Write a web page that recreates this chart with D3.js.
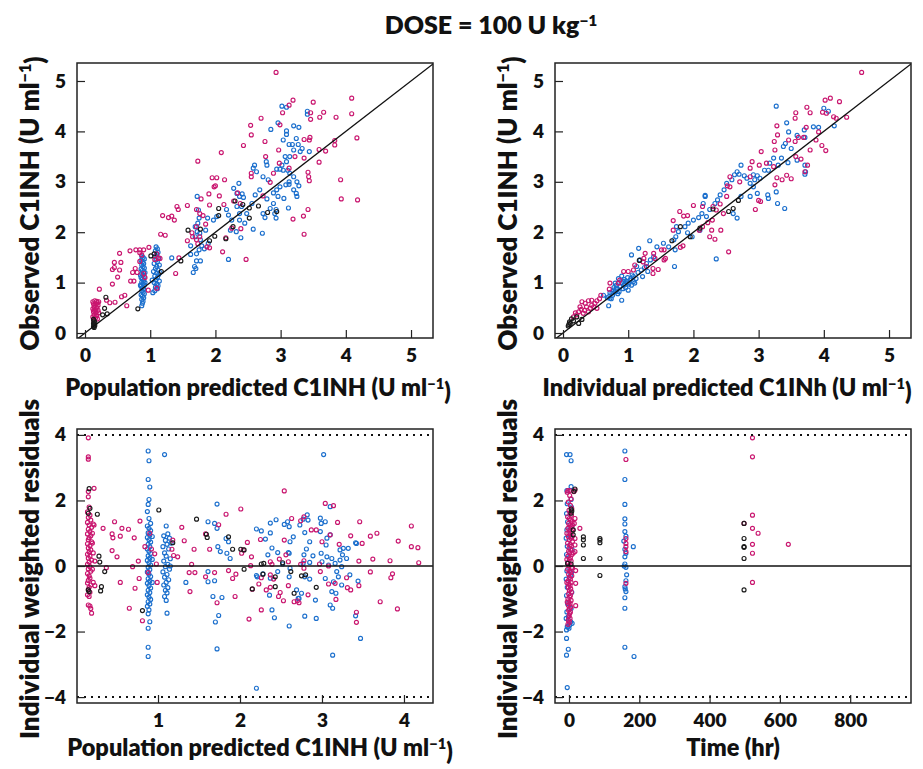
<!DOCTYPE html>
<html><head><meta charset="utf-8">
<script src="https://cdn.jsdelivr.net/npm/d3@7"></script>
<style>
body{margin:0;background:#fff}
text{font-family:Lato,"DejaVu Sans",sans-serif;font-weight:800;fill:#111}
</style>
</head><body>
<svg id="c" width="923" height="769"></svg>
<script>
// ---------------- DATA ----------------
const titleText = "DOSE = 100 U kg";
const xTicksPred = [0,1,2,3,4,5];
const yTicksObs = [0,1,2,3,4,5];
const xTicksResPred = [1,2,3,4];
const xTicksTime = [0,200,400,600,800];
const yTicksRes = [-4,-2,0,2,4];

// Panel 1: population predicted vs observed
const p1Blue = [
[0.87,1.53],[0.89,1.50],[0.91,1.47],[0.86,1.44],[0.88,1.41],[0.90,1.38],[0.87,1.35],[0.89,1.32],[0.91,1.29],[0.86,1.27],[0.88,1.24],[0.90,1.21],[0.87,1.18],[0.89,1.15],[0.91,1.12],[0.86,1.10],[0.88,1.07],[0.90,1.04],[0.87,1.01],[0.89,0.98],[0.91,0.95],[0.86,0.93],[0.88,0.90],[0.90,0.87],[0.87,0.84],[0.89,0.81],[0.91,0.78],[0.86,0.76],[0.88,0.73],[0.90,0.70],[0.87,0.67],[0.89,0.63],[0.88,0.59],[0.87,0.54],[0.92,1.20],[0.92,1.00],[0.85,1.15],[0.85,0.95],
[1.09,1.71],[1.11,1.67],[1.08,1.63],[1.12,1.60],[1.10,1.56],[1.07,1.52],[1.13,1.49],[1.09,1.45],[1.11,1.41],[1.06,1.38],[1.14,1.35],[1.10,1.32],[1.08,1.28],[1.12,1.25],[1.05,1.22],[1.10,1.19],[1.13,1.16],[1.07,1.13],[1.11,1.10],[1.09,1.06],[1.14,1.03],[1.06,1.00],[1.10,0.97],[1.12,0.94],[1.08,0.91],[1.11,0.88],[1.07,0.84],[1.04,0.80],[1.15,1.20],[1.03,1.05],
[3.02,4.50],[3.09,4.48],[2.96,4.17],[2.85,4.04],[3.41,4.40],[3.41,4.34],[3.20,4.11],[3.28,4.08],[3.09,4.01],[3.09,3.94],[3.13,3.74],[3.18,3.74],[3.04,3.83],[3.27,3.74],[3.24,3.86],[3.33,3.66],[3.30,3.60],[3.44,3.60],[3.20,3.63],[3.07,3.50],[3.14,3.50],[3.09,3.40],[3.02,3.33],[2.94,3.25],[2.99,3.25],[3.04,3.23],[3.11,3.23],[3.14,3.17],[3.20,3.10],[3.25,3.00],[3.28,2.92],[3.24,2.77],[3.25,2.71],[3.13,3.00],[3.13,2.95],[3.20,2.84],[3.08,2.94],[2.99,2.90],[2.94,2.84],[2.89,2.78],[2.96,2.71],[3.05,2.67],[3.12,2.48],[2.89,2.57],[2.93,2.45],[2.91,2.37],[2.93,2.28],[2.84,2.47],[2.79,2.66],[2.78,3.40],[2.79,3.33],[2.81,3.04],[2.73,3.10],[2.63,3.20],[2.60,3.33],[2.58,3.27],[2.68,2.84],[2.61,2.74],[2.56,2.57],[2.73,2.37],[2.76,2.29],[2.72,1.98],[2.58,2.06],[2.45,2.18],[2.48,2.37],[2.43,2.69],[2.41,2.76],[2.33,2.77],[2.28,2.87],[2.36,2.97],[2.37,2.71],[2.40,2.51],[2.33,2.51],[2.37,2.37],[2.37,2.24],[2.25,2.24],[2.23,2.04],[2.32,2.01],[2.39,1.89],[2.20,1.46],[2.17,2.45],[2.20,2.34],[2.02,2.31],[1.97,2.24],[1.88,2.28],[1.85,2.04],[1.72,2.71],[1.74,2.44],[1.75,2.28],[1.73,2.18],[1.69,2.11],[1.72,2.01],[1.76,1.98],[1.69,1.91],[1.77,1.85],[1.79,1.73],[1.75,1.65],[1.71,1.57],[1.62,1.73],[1.62,1.56],[1.71,1.43],[1.77,1.43],[1.68,1.32],[1.70,1.28],[1.66,1.20],[1.83,1.67],[1.89,1.78],[1.33,1.49]
];
const p1Magenta = [
[0.12,0.62],[0.15,0.64],[0.18,0.63],[0.21,0.62],[0.13,0.58],[0.17,0.57],[0.20,0.55],[0.14,0.52],[0.18,0.50],[0.12,0.48],[0.16,0.46],[0.20,0.45],[0.13,0.42],[0.17,0.40],[0.21,0.40],[0.14,0.36],[0.18,0.34],[0.12,0.32],[0.16,0.30],[0.19,0.28],[0.13,0.26],[0.15,0.55],[0.19,0.60],[0.14,0.45],[0.17,0.35],
[2.93,5.17],[4.09,4.66],[4.09,4.35],[4.17,3.87],[4.18,2.64],[3.93,2.66],[3.92,3.04],[3.85,4.28],[3.66,4.38],[3.60,4.28],[3.50,4.58],[3.46,4.37],[3.46,4.24],[3.19,4.62],[3.13,4.52],[3.03,4.37],[2.99,4.13],[2.70,4.26],[2.54,4.12],[2.55,3.93],[2.43,3.72],[2.76,3.80],[2.77,3.50],[2.97,3.63],[2.98,3.37],[3.13,3.27],[3.22,3.50],[3.36,3.47],[3.45,3.88],[3.44,3.83],[3.36,3.84],[3.59,3.64],[3.69,3.61],[3.83,3.82],[3.83,3.73],[3.59,3.39],[3.42,3.19],[3.43,3.10],[3.44,3.02],[3.42,2.45],[3.35,2.32],[3.36,1.96],[3.19,2.26],[2.89,3.17],[2.84,2.99],[2.73,2.72],[2.55,3.17],[2.55,3.10],[2.38,2.57],[2.34,2.78],[2.28,2.62],[2.13,2.55],[2.25,2.08],[2.16,1.89],[2.39,2.07],[2.47,1.46],[2.11,1.61],[2.09,3.58],[2.14,3.04],[2.02,3.08],[2.00,2.92],[1.98,2.90],[1.95,3.08],[2.06,2.72],[1.90,2.76],[1.73,3.41],[1.91,2.54],[1.78,2.66],[1.71,2.45],[1.81,2.33],[1.85,2.16],[1.71,2.11],[1.76,2.37],[1.57,2.53],[1.41,2.51],[1.43,2.45],[1.19,2.33],[1.28,2.29],[1.33,2.32],[1.37,2.24],[1.16,1.96],[1.23,1.94],[1.64,1.99],[1.65,1.91],[1.57,1.83],[1.71,1.85],[1.76,1.91],[1.87,1.71],[1.91,1.69],[1.73,1.77],[1.44,1.49],[1.39,1.18],[0.98,1.70],[0.90,1.65],[0.84,1.65],[0.78,1.65],[0.69,1.63],[0.87,1.55],[0.84,1.42],[0.84,1.59],[0.77,1.28],[0.80,1.20],[0.73,1.20],[0.70,1.03],[0.75,1.03],[0.64,0.54],[0.56,0.72],[0.61,0.75],[0.55,1.40],[0.53,1.58],[0.45,1.40],[0.45,1.30],[0.53,1.25],[0.42,1.26],[0.50,1.11],[0.42,0.97],[0.46,0.61],[0.38,0.60],[0.33,0.65],[0.22,0.87],[0.97,0.85],[1.10,0.89],[1.10,1.57],[1.12,1.48],[1.15,1.48],[1.07,1.46],[0.90,1.18],[0.92,1.10]
];
const p1Black = [
[0.13,0.13],[0.14,0.16],[0.13,0.19],[0.15,0.21],[0.14,0.24],[0.13,0.27],[0.15,0.15],[0.14,0.11],
[2.30,2.62],[2.42,2.55],[2.52,2.48],[2.66,2.52],[2.80,2.39],[2.94,2.41],[2.52,2.28],[2.27,2.11],[2.16,1.87],[2.05,2.47],[2.05,2.33],[1.99,1.92],[1.91,1.83],[1.77,2.06],[1.58,2.04],[1.47,1.43],[1.17,1.22],[1.01,1.53],[1.06,1.57],[0.81,0.48],[0.32,0.71],[0.30,0.49],[0.27,0.36],[0.34,0.38]
];

// Panel 2: individual predicted vs observed
const p2Blue = [
[3.27,4.50],[3.43,4.17],[3.46,3.99],[3.59,3.92],[3.70,4.03],[3.71,3.88],[3.84,4.09],[3.92,4.08],[4.00,4.46],[4.07,4.40],[4.16,4.11],[3.71,3.15],[3.72,3.20],[3.71,3.33],[3.59,3.43],[3.45,3.38],[3.41,3.76],[3.38,3.70],[3.50,3.66],[3.35,3.47],[3.30,3.33],[3.23,3.47],[3.17,3.37],[3.15,3.23],[3.09,3.23],[3.02,3.07],[2.98,3.12],[2.94,3.04],[2.92,3.14],[2.87,2.97],[2.82,3.07],[2.78,3.12],[2.73,3.33],[2.70,3.15],[2.67,3.20],[2.63,3.14],[2.59,3.04],[2.51,2.97],[2.47,2.84],[2.41,2.74],[2.37,2.64],[2.33,2.57],[2.25,2.45],[2.18,2.71],[2.15,2.57],[2.13,2.37],[2.08,2.29],[2.00,2.24],[1.92,2.18],[1.87,2.11],[1.77,2.01],[1.73,1.91],[1.70,1.85],[1.62,1.71],[1.54,1.78],[1.44,1.71],[1.39,1.51],[1.34,1.45],[1.28,1.38],[1.18,1.45],[1.16,1.68],[1.05,1.55],[1.13,1.32],[1.08,1.12],[1.03,1.05],[0.98,0.99],[0.93,1.02],[0.87,0.92],[0.82,0.89],[0.77,0.85],[0.75,0.79],[0.70,0.72],[0.80,0.99],[0.90,1.13],[0.85,1.08],[0.72,0.69],[0.90,0.65],[0.70,0.54],[0.62,0.75],[1.05,0.95],[1.10,0.99],[1.00,0.85],[2.35,1.47],[3.40,2.47],[3.29,2.57],[3.15,2.67],[3.14,2.74],[3.27,2.80],[2.98,2.77],[2.87,2.71],[2.73,2.71],[2.67,2.28],[2.61,2.37],[2.92,2.90],[2.18,2.73],[1.72,1.65],[1.71,1.32],[1.33,1.83],[1.74,2.11],[2.20,2.31],[2.10,2.04],[1.98,1.91],[1.91,1.99],
[0.72,0.80],[0.76,0.75],[0.80,0.82],[0.83,0.86],[0.86,0.82],[0.88,0.93],[0.92,0.88],[0.95,0.96],[0.97,1.03],[1.01,0.97],[1.04,1.08],[0.78,0.90],[0.82,0.95],[0.90,1.00],[0.94,1.06],[0.99,1.10],[1.06,1.15],[1.12,1.08],[0.68,0.70],[0.74,0.68],[0.84,0.78],[0.96,0.90],[1.08,1.02],[1.15,1.20],[1.20,1.25],[1.25,1.30],[1.30,1.22],[1.22,1.12]
];
const p2Magenta = [
[4.58,5.17],[4.24,4.59],[4.10,4.66],[4.02,4.62],[4.04,4.36],[4.15,4.29],[4.19,4.26],[4.35,4.28],[3.98,4.38],[3.97,3.72],[4.03,3.62],[3.88,3.83],[3.92,3.99],[3.79,4.37],[3.74,4.48],[3.73,4.08],[3.57,4.37],[3.56,4.26],[3.69,3.88],[3.61,3.88],[3.56,3.80],[3.46,3.83],[3.75,3.33],[3.71,3.20],[3.79,3.63],[3.57,3.50],[3.65,3.45],[3.50,3.06],[3.43,3.13],[3.36,3.04],[3.28,4.11],[3.29,3.93],[3.24,3.80],[3.25,3.63],[3.28,3.08],[3.25,2.94],[3.23,3.30],[3.12,3.37],[3.04,3.60],[3.01,3.33],[3.03,2.61],[3.00,2.63],[2.95,2.45],[2.90,3.40],[2.87,3.27],[2.87,3.10],[2.71,3.00],[2.56,3.10],[2.56,2.90],[2.52,2.92],[2.51,2.71],[2.46,2.37],[2.41,2.56],[2.30,2.51],[2.35,2.44],[2.29,2.24],[2.22,2.19],[2.14,2.51],[2.00,2.53],[1.91,2.33],[1.85,2.32],[1.79,2.41],[1.69,2.23],[1.69,2.04],[2.14,2.11],[2.09,2.04],[2.28,2.04],[2.33,1.86],[2.42,2.04],[2.25,1.91],[2.54,1.61],[1.84,1.73],[1.80,1.70],[1.55,1.65],[1.51,1.65],[1.57,1.48],[1.55,1.45],[1.39,1.58],[1.41,1.48],[1.38,1.28],[1.26,1.58],[1.24,1.48],[1.28,1.32],[1.23,1.41],[1.46,1.26],[1.38,1.18],[1.08,1.25],[1.10,1.35],[1.00,1.22],[0.93,1.22],[0.87,1.05],[0.85,0.99],[0.72,0.99],[0.71,0.87],[0.58,0.75],[0.56,0.68],[0.52,0.64],[0.49,0.59],[0.44,0.65],[0.39,0.64],[0.34,0.59],[0.29,0.62],[0.36,0.52],[0.42,0.49],[0.47,0.52],[0.26,0.52],[0.24,0.42],[0.21,0.36],[0.31,0.39],[0.39,0.42],[0.52,0.49],[0.16,0.32],[0.19,0.40],[0.28,0.47],[0.33,0.45],[0.44,0.55]
];
const p2Black = [
[2.30,2.46],[2.54,2.41],[2.61,2.47],[2.69,2.63],[2.10,2.08],[1.95,1.91],[1.80,2.11],[1.67,1.83],[1.17,1.44],[0.16,0.24],[0.11,0.19],[0.08,0.14],[0.21,0.32],[0.29,0.27],[0.24,0.19],[0.10,0.22],[0.09,0.17],[0.13,0.28]
];

// Panel 3: population predicted vs IWRES
const p3Blue = [
[0.88,3.51],[0.89,3.21],[0.88,2.64],[0.90,2.41],[0.89,2.03],[0.88,1.88],[0.87,1.66],[0.89,1.45],[0.91,1.30],[0.87,1.22],[0.89,1.15],[0.91,1.08],[0.88,1.01],[0.90,0.94],[0.87,0.87],[0.89,0.80],[0.91,0.73],[0.88,0.66],[0.90,0.59],[0.87,0.52],[0.89,0.45],[0.91,0.38],[0.88,0.31],[0.90,0.24],[0.87,0.17],[0.89,0.10],[0.91,0.03],[0.88,-0.04],[0.90,-0.11],[0.87,-0.18],[0.89,-0.25],[0.91,-0.32],[0.88,-0.39],[0.90,-0.46],[0.87,-0.53],[0.89,-0.60],[0.91,-0.67],[0.88,-0.74],[0.90,-0.81],[0.87,-0.88],[0.89,-0.95],[0.91,-1.02],[0.88,-1.09],[0.90,-1.16],[0.87,-1.23],[0.89,-1.34],[0.88,-1.46],[0.90,-1.70],[0.88,-1.90],[0.88,-2.48],[0.88,-2.76],[0.93,0.90],[0.93,0.20],[0.93,-0.50],
[1.08,3.40],[1.10,1.22],[1.12,0.98],[1.07,0.92],[1.14,0.85],[1.09,0.78],[1.11,0.66],[1.06,0.59],[1.13,0.52],[1.08,0.40],[1.10,0.30],[1.15,0.22],[1.07,0.15],[1.12,0.05],[1.09,-0.02],[1.14,-0.10],[1.06,-0.18],[1.11,-0.26],[1.08,-0.34],[1.13,-0.42],[1.10,-0.50],[1.07,-0.58],[1.12,-0.66],[1.09,-0.74],[1.11,-0.82],[1.08,-0.93],[1.10,-1.05],[1.11,-1.44],[1.16,0.70],[1.15,0.00],
[1.72,1.89],[1.61,1.35],[1.69,1.30],[1.72,1.15],[1.73,0.59],[1.76,0.44],[1.61,-0.17],[1.61,-0.48],[1.69,-0.45],[1.67,-0.93],[1.78,-0.96],[1.74,-1.51],[1.70,-1.71],[1.72,-2.53],[1.34,-0.50],[1.83,0.84],[1.86,0.74],[1.84,0.39],[1.88,0.23],
[2.20,-3.73],[2.20,-0.29],[2.20,1.13],[2.26,1.07],[2.37,1.31],[2.44,1.41],[2.31,0.82],[2.37,1.01],[2.39,0.55],[2.34,0.34],[2.46,0.41],[2.52,0.06],[2.21,-0.33],[2.28,-0.24],[2.37,-0.37],[2.46,-0.17],[2.60,-0.33],[2.36,-0.89],[2.39,-1.34],[2.42,-1.58],[2.60,-1.83],[2.60,1.20],[2.58,1.35],[2.54,1.27],[2.61,0.74],[2.59,0.41],[2.73,1.25],[2.77,1.43],[2.82,1.56],[2.83,1.40],[2.79,1.02],[2.85,0.74],[2.81,0.52],[2.78,0.34],[2.89,0.31],[2.85,0.11],[2.77,0.08],[2.79,-0.33],[2.85,-0.40],[2.75,-0.83],[2.71,-0.99],[2.79,-1.53],[2.93,-1.60],[2.92,-1.04],[2.98,1.46],[2.99,1.30],[3.04,1.35],[3.02,3.40],[3.10,1.81],[2.98,1.05],[3.06,0.85],[3.10,0.95],[3.05,0.64],[2.99,0.39],[3.06,0.28],[3.12,0.23],[3.00,0.13],[3.08,0.03],[3.16,0.08],[3.22,0.18],[3.18,-0.17],[3.24,-0.02],[3.30,0.23],[3.32,0.54],[3.25,0.34],[3.04,-0.38],[3.14,-0.48],[3.12,-0.78],[3.17,-0.83],[3.10,-1.19],[3.13,-1.29],[3.13,-2.72],[3.42,0.69],[3.44,-0.46],[3.41,-1.52],[3.47,-2.21],[3.24,-0.58],[3.34,-0.27],[3.20,-0.33],[3.22,0.49],[3.26,0.54],[3.41,0.71],[2.65,0.89],[2.69,-0.73],[2.72,-0.99],[2.61,-0.07],[2.60,0.39]
];
const p3Magenta = [
[0.15,3.91],[0.15,3.33],[0.15,3.26],[0.22,2.37],[0.15,2.27],[0.15,2.11],[0.16,1.80],[0.14,1.65],[0.17,1.55],[0.15,1.48],[0.18,1.40],[0.14,1.33],[0.16,1.25],[0.19,1.18],[0.15,1.12],[0.17,1.05],[0.14,0.98],[0.18,0.92],[0.16,0.86],[0.15,0.80],[0.19,0.74],[0.14,0.68],[0.17,0.62],[0.15,0.55],[0.18,0.49],[0.16,0.43],[0.14,0.36],[0.17,0.30],[0.15,0.24],[0.19,0.18],[0.16,0.12],[0.14,0.05],[0.17,-0.02],[0.15,-0.09],[0.18,-0.16],[0.14,-0.23],[0.16,-0.30],[0.17,-0.37],[0.15,-0.44],[0.14,-0.52],[0.18,-0.58],[0.16,-0.65],[0.15,-0.72],[0.17,-0.80],[0.14,-0.88],[0.16,-0.93],[0.15,-1.19],[0.17,-1.22],[0.18,-1.30],[0.19,-1.44],[0.20,1.00],[0.20,0.70],[0.21,0.40],[0.20,-0.10],[0.21,-0.50],[0.22,1.25],[0.23,0.15],[0.23,-0.60],
[0.21,1.28],[0.33,1.15],[0.47,1.35],[0.56,1.15],[0.64,1.12],[0.44,0.98],[0.45,0.86],[0.54,0.91],[0.44,0.47],[0.50,0.28],[0.37,-0.05],[0.54,-0.50],[0.65,-1.29],[0.71,0.86],[0.78,1.37],[0.81,-1.67],[0.72,-0.68],[0.69,-0.02],[0.76,0.15],[0.77,-0.38],[0.84,0.59],[0.96,0.37],[0.99,-0.50],[0.98,0.06],[0.90,1.00],[0.92,0.52],[0.88,-0.20],[1.17,0.51],[1.18,0.79],[1.19,0.32],[1.24,0.28],[1.29,1.18],[1.32,0.77],[1.38,-0.20],[1.41,0.05],[1.39,-0.78],[1.44,0.51],[1.45,-0.20],[1.58,-0.33],[1.58,0.98],[1.63,0.51],[1.74,1.26],[1.72,-1.12],[1.69,-0.20],[1.83,1.58],[1.86,-0.14],[1.91,-0.38],[1.94,-0.93],[1.95,-0.25],[2.01,1.74],[2.02,0.39],[2.04,0.49],[2.09,0.72],[2.11,-1.62],[2.13,0.01],[2.14,0.28],[2.15,-0.71],[2.23,-0.55],[2.26,-1.34],[2.25,0.81],[2.26,-0.36],[2.32,-0.73],[2.37,-0.65],[2.37,-0.27],[2.39,0.05],[2.37,0.13],[2.41,-0.40],[2.47,-0.93],[2.48,0.21],[2.49,-0.81],[2.54,2.29],[2.54,0.79],[2.53,-1.06],[2.56,0.34],[2.59,0.13],[2.59,-0.60],[2.63,1.45],[2.66,-1.09],[2.70,-1.06],[2.72,-1.12],[2.74,0.05],[2.74,1.38],[2.78,1.50],[2.78,0.16],[2.78,-0.07],[2.83,-0.88],[2.87,1.10],[2.93,1.10],[2.97,0.06],[2.98,-0.17],[3.00,0.74],[3.04,1.91],[3.08,0.00],[3.08,-0.55],[3.10,0.95],[3.14,1.84],[3.16,-0.53],[3.17,-1.02],[3.19,1.33],[3.21,0.66],[3.30,-0.36],[3.31,-0.66],[3.35,-0.73],[3.35,0.92],[3.42,-1.41],[3.42,-1.72],[3.46,1.35],[3.45,0.15],[3.45,-0.60],[3.49,0.69],[3.59,0.91],[3.59,-0.18],[3.62,0.21],[3.67,1.00],[3.71,-1.09],[3.83,0.16],[3.84,-0.36],[3.86,-0.24],[3.92,-1.31],[3.93,0.76],[4.09,1.22],[4.09,0.59],[4.17,0.56],[4.18,0.10]
];
const p3Black = [
[0.16,2.36],[0.17,1.76],[0.15,1.61],[0.26,1.58],[0.28,0.30],[0.29,0.12],[0.35,-0.17],[0.31,-0.63],[0.30,-0.76],[0.15,-0.73],[0.16,-0.78],[0.81,-1.36],[1.01,1.71],[1.18,0.71],[1.47,1.43],[1.59,0.97],[1.60,0.87],[1.86,0.89],[1.91,0.51],[2.01,0.51],[2.05,0.49],[2.05,-0.10],[2.15,-0.70],[2.26,0.06],[2.29,0.08],[2.28,-0.25],[2.43,-0.33],[2.43,-0.63],[2.52,0.10],[2.62,-0.17],[2.66,-0.83],[2.75,-0.30],[2.80,-0.27],[2.93,-0.65]
];

// Panel 4: time vs IWRES
const p4Blue = [
[-7,3.40],[3,3.40],[6,3.21],[6,2.42],[6,2.03],[-7,-2.21],[-2,-2.54],[-7,-2.72],[-5,-3.71],[5,-1.70],
[-6,2.30],[-5,1.90],[-7,1.60],[-4,1.35],[-6,1.10],[-8,0.85],[-5,0.60],[-7,0.35],[-4,0.10],[-6,-0.15],[-8,-0.40],[-5,-0.65],[-7,-0.90],[-4,-1.15],[-6,-1.40],[-8,-1.60],[-5,-1.85],[-7,-1.95],[7,1.80],[8,1.20],[9,0.50],[7,-0.20],[8,-0.80],[6,-1.30],[9,-1.75],[5,0.90],[4,-0.30],[-2,-1.55],[-3,-1.85],[2,-1.80],[0,-1.90],
[159,3.51],[159,2.64],[159,1.88],[159,1.44],[159,1.28],[159,1.05],[162,0.91],[156,0.76],[159,0.51],[162,0.39],[159,0.28],[159,0.06],[162,-0.04],[164,-0.27],[162,-0.45],[159,-0.63],[162,-0.78],[159,-0.97],[159,-1.29],[159,-2.48],[183,0.59],[185,-2.76],[157,0.00],[160,-0.70]
];
const p4Magenta = [
[-3,2.30],[2,2.15],[6,2.05],[-2,1.95],[4,1.85],[8,1.75],[0,1.70],[3,1.62],[7,1.55],[-4,1.50],[1,1.45],[5,1.40],[9,1.35],[-1,1.30],[3,1.25],[6,1.20],[-3,1.15],[2,1.10],[8,1.05],[0,1.00],[4,0.95],[-2,0.90],[6,0.85],[1,0.80],[10,0.75],[-4,0.70],[3,0.65],[7,0.60],[0,0.55],[5,0.50],[-1,0.45],[2,0.40],[8,0.35],[-3,0.30],[4,0.25],[1,0.20],[6,0.15],[-2,0.10],[3,0.05],[0,0.00],[7,-0.05],[-4,-0.10],[2,-0.15],[5,-0.20],[-1,-0.25],[8,-0.30],[1,-0.35],[4,-0.40],[-3,-0.45],[6,-0.50],[0,-0.55],[3,-0.60],[-2,-0.65],[5,-0.70],[1,-0.75],[7,-0.80],[-1,-0.85],[4,-0.90],[2,-0.95],[-3,-1.00],[6,-1.05],[0,-1.10],[3,-1.15],[-2,-1.20],[5,-1.25],[1,-1.30],[-1,-1.35],[4,-1.40],[2,-1.45],[0,-1.52],[3,-1.60],[-2,-1.65],[1,-1.72],[-3,-1.78],[-5,2.25],[2,2.30],[10,1.25],[11,1.10],[9,0.90],[12,0.40],[10,-0.05],[-6,1.00],[-6,0.20],[-6,-0.50],[-5,-1.10],
[17,2.32],[14,2.27],[31,1.15],[17,1.45],[15,1.30],[17,0.84],[17,0.64],[17,0.44],[19,-0.14],[19,-0.53],[19,-1.21],
[162,3.25],[162,0.84],[162,0.69],[162,0.59],[162,0.44],[162,-0.53],
[522,3.91],[522,3.33],[522,1.55],[522,1.15],[522,0.66],[522,0.39],[522,-0.50],[538,1.00],[624,0.66],[498,1.30]
];
const p4Black = [
[6,1.74],[6,1.61],[8,1.68],[17,2.35],[12,1.10],[12,0.95],[6,0.06],[-4,0.08],[14,2.28],
[41,0.89],[41,0.80],[41,0.64],[41,0.23],[88,0.84],[88,0.79],[88,0.71],[88,0.23],[88,-0.29],
[498,1.30],[498,0.84],[498,0.59],[498,0.57],[498,0.23],[498,-0.73]
];

// ---------------- DRAW ----------------
const MAG = "#c9166f", BLU = "#1b6fcd", BLK = "#1a1a1a";
const svg = d3.select("#c");
const XLABEL_FS = 23.5, YLABEL_FS = 26;

function addLabel(sel, main, sup, tail) {
  sel.append("tspan").text(main);
  if (sup) {
    sel.append("tspan").attr("dy", "-0.5em").attr("font-size", "0.62em").text(sup);
    sel.append("tspan").attr("dy", "0.5em").text(tail || "");
  }
}

const panels = [
  {id:1, x0:77, x1:433, y0:63, y1:338, xd:[-0.123,5.337], yd:[-0.099,5.357], xt:xTicksPred, yt:yTicksObs, diag:true, xlc:258, xly:396,
   series:[[p1Blue,BLU],[p1Magenta,MAG],[p1Black,BLK]],
   xl:["Population predicted C1INH (U ml","−1",")"], yl:["Observed C1INH (U ml","−1",")"]},
  {id:2, x0:555, x1:911, y0:63, y1:338, xd:[-0.123,5.337], yd:[-0.099,5.357], xt:xTicksPred, yt:yTicksObs, diag:true, xlc:727, xly:396,
   series:[[p2Blue,BLU],[p2Magenta,MAG],[p2Black,BLK]],
   xl:["Individual predicted C1INh (U ml","−1",")"], yl:["Observed C1INH (U ml","−1",")"]},
  {id:3, x0:77, x1:433, y0:429, y1:703, xd:[0.012,4.354], yd:[-4.18,4.18], xt:xTicksResPred, yt:yTicksRes, resid:true, xlc:260, xly:756,
   series:[[p3Blue,BLU],[p3Magenta,MAG],[p3Black,BLK]],
   xl:["Population predicted C1INH (U ml","−1",")"], yl:["Individual weighted residuals"]},
  {id:4, x0:555, x1:911, y0:429, y1:703, xd:[-39.8,973], yd:[-4.18,4.18], xt:xTicksTime, yt:yTicksRes, resid:true, xlc:733, xly:756,
   series:[[p4Blue,BLU],[p4Magenta,MAG],[p4Black,BLK]],
   xl:["Time (hr)"], yl:["Individual weighted residuals"]}
];

const defs = svg.append("defs");

panels.forEach(p => {
  const x = d3.scaleLinear().domain(p.xd).range([p.x0, p.x1]);
  const y = d3.scaleLinear().domain(p.yd).range([p.y1, p.y0]);
  defs.append("clipPath").attr("id", "clip" + p.id).append("rect")
    .attr("x", p.x0).attr("y", p.y0).attr("width", p.x1 - p.x0).attr("height", p.y1 - p.y0);
  const g = svg.append("g");
  const inner = g.append("g").attr("clip-path", `url(#clip${p.id})`);

  p.series.forEach(([data, col]) => {
    inner.append("g").selectAll("circle").data(data).join("circle")
      .attr("cx", d => x(d[0])).attr("cy", d => y(d[1])).attr("r", 2)
      .attr("fill", "none").attr("stroke", col).attr("stroke-width", 1.15);
  });

  if (p.diag) {
    inner.append("line")
      .attr("x1", x(p.xd[0])).attr("y1", y(p.xd[0]))
      .attr("x2", x(p.xd[1])).attr("y2", y(p.xd[1]))
      .attr("stroke", "#111").attr("stroke-width", 1.3);
  }
  if (p.resid) {
    inner.append("line").attr("x1", p.x0).attr("x2", p.x1).attr("y1", y(0)).attr("y2", y(0))
      .attr("stroke", "#111").attr("stroke-width", 1.4);
    [4, -4].forEach(v => {
      inner.append("line").attr("x1", p.x0).attr("x2", p.x1).attr("y1", y(v)).attr("y2", y(v))
        .attr("stroke", "#111").attr("stroke-width", 2).attr("stroke-dasharray", "2,5");
    });
  }

  const ax = d3.axisBottom(x).tickValues(p.xt).tickFormat(d3.format("d"))
    .tickSizeInner(-8).tickSizeOuter(0).tickPadding(11);
  const gx = g.append("g").attr("transform", `translate(0,${p.y1})`).call(ax);
  const ay = d3.axisLeft(y).tickValues(p.yt).tickFormat(d3.format("d"))
    .tickSizeInner(-8).tickSizeOuter(0).tickPadding(11);
  const gy = g.append("g").attr("transform", `translate(${p.x0},0)`).call(ay);
  [gx, gy].forEach(a => {
    a.select(".domain").remove();
    a.attr("font-family", null).attr("font-size", null);
    a.selectAll("line").attr("stroke", "#222").attr("stroke-width", 1.2);
    a.selectAll("text").attr("font-size", 19).attr("fill", "#111");
  });

  g.append("rect").attr("x", p.x0).attr("y", p.y0).attr("width", p.x1 - p.x0).attr("height", p.y1 - p.y0)
    .attr("fill", "none").attr("stroke", "#222").attr("stroke-width", 1.5);

  const xt = g.append("text").attr("x", p.xlc).attr("y", p.xly)
    .attr("text-anchor", "middle").attr("font-size", XLABEL_FS);
  addLabel(xt, p.xl[0], p.xl[1], p.xl[2]);
  const yx = p.x0 - 38, yy = (p.y0 + p.y1) / 2 + 3;
  const yt = g.append("text").attr("transform", `translate(${yx},${yy}) rotate(-90)`)
    .attr("text-anchor", "middle").attr("font-size", YLABEL_FS);
  addLabel(yt, p.yl[0], p.yl[1], p.yl[2]);
});

const t = svg.append("text").attr("x", 491).attr("y", 34).attr("text-anchor", "middle").attr("font-size", 25);
addLabel(t, titleText, "−1", "");
</script>
</body></html>
